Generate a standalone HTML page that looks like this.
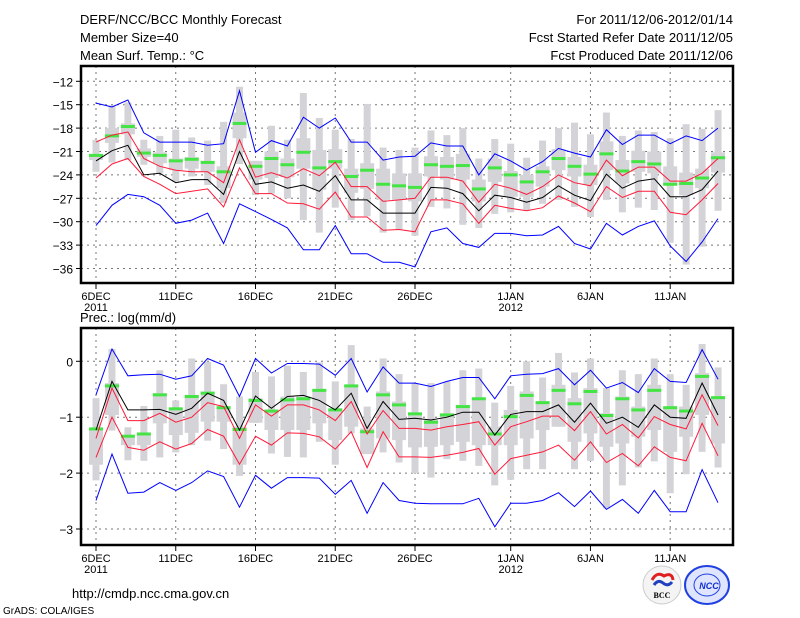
<!DOCTYPE html>
<html><head><meta charset="utf-8"><style>
body{margin:0;background:#fff;}
svg{display:block;font-family:"Liberation Sans",sans-serif;}
</style></head><body>
<svg id="chart" width="800" height="618" viewBox="0 0 800 618" xmlns="http://www.w3.org/2000/svg">
<rect width="800" height="618" fill="#fff"/>
<g font-size="13" fill="#000">
<text x="80" y="24">DERF/NCC/BCC Monthly Forecast</text>
<text x="80" y="42">Member Size=40</text>
<text x="80" y="60">Mean Surf. Temp.: °C</text>
<text x="733" y="24" text-anchor="end">For 2011/12/06-2012/01/14</text>
<text x="733" y="42" text-anchor="end">Fcst Started Refer Date 2011/12/05</text>
<text x="733" y="60" text-anchor="end">Fcst Produced Date 2011/12/06</text>
<text x="80" y="322">Prec.: log(mm/d)</text>
<text x="72" y="598">http://cmdp.ncc.cma.gov.cn</text>
<text x="3" y="614" font-size="10">GrADS: COLA/IGES</text>
</g>
<g id="top"></g>
<g id="bot"></g>
<g>
<circle cx="662" cy="585" r="19" fill="#f4f4f4" stroke="#ccc"/>
<path d="M652 580 q5 -9 12 -4 q8 -4 9 4" fill="none" stroke="#e02020" stroke-width="3"/>
<path d="M654 585 q4 -6 9 -2 q5 4 9 -1" fill="none" stroke="#2040c0" stroke-width="3"/>
<text x="662" y="598" font-size="8" text-anchor="middle" font-family="Liberation Serif,serif" font-weight="bold">BCC</text>
</g>
<g>
<ellipse cx="707" cy="585" rx="22" ry="19" fill="#dfe5ff" stroke="#2040e0" stroke-width="2"/>
<ellipse cx="707" cy="585" rx="13" ry="11" fill="none" stroke="#2040e0"/>
<text x="709" y="589" font-size="9" text-anchor="middle" fill="#1030d0" font-weight="bold" font-style="italic">NCC</text>
</g>
</svg>
<script>
const days = 40;
const xTickLabels = ["6DEC","11DEC","16DEC","21DEC","26DEC","1JAN","6JAN","11JAN"];
const xTickDays = [0,5,10,15,20,26,31,36];
const xYearLabels = ["2011","","","","","2012","",""];

const tTicks = [-12,-15,-18,-21,-24,-27,-30,-33,-36];
const tMax = [-14.8,-15.3,-14.4,-18.6,-19.8,-19.8,-19.8,-20.2,-20.0,-13.2,-21.1,-19.6,-20.3,-16.6,-18.0,-16.7,-19.8,-19.8,-22.1,-21.7,-21.6,-19.9,-20.3,-20.3,-24.0,-21.3,-22.2,-23.4,-22.3,-20.6,-21.2,-21.7,-18.2,-20.1,-18.9,-18.9,-20.0,-19.0,-19.6,-18.0];
const tUpper = [-19.8,-18.9,-18.5,-21.9,-22.9,-23.4,-23.6,-23.6,-25.0,-19.5,-24.3,-23.7,-24.4,-23.2,-24.1,-22.4,-25.5,-25.5,-27.4,-27.2,-27.0,-24.3,-24.3,-24.8,-27.5,-25.2,-25.7,-26.5,-25.5,-24.0,-25.0,-25.4,-22.1,-24.1,-23.0,-23.0,-24.8,-24.8,-23.8,-21.9];
const tMean = [-22.2,-20.9,-20.2,-24.0,-23.8,-25.0,-24.6,-24.6,-26.5,-21.0,-25.2,-24.9,-25.7,-25.3,-26.1,-24.1,-27.2,-27.2,-28.9,-28.9,-28.9,-25.6,-25.7,-26.4,-28.6,-26.6,-26.9,-27.5,-26.9,-25.4,-26.6,-27.3,-23.9,-25.7,-24.8,-24.5,-26.8,-26.8,-25.9,-23.5];
const tLower = [-24.4,-22.6,-21.9,-24.2,-25.2,-26.4,-26.1,-25.8,-28.1,-23.1,-26.4,-26.4,-27.6,-27.7,-28.4,-26.2,-29.4,-29.4,-31.1,-31.0,-31.3,-27.2,-27.2,-27.7,-30.2,-27.9,-28.3,-28.6,-28.2,-26.7,-27.6,-28.7,-25.5,-26.9,-26.1,-26.1,-28.8,-29.1,-27.2,-25.1];
const tMin = [-30.5,-27.9,-26.5,-26.8,-27.9,-30.2,-29.8,-28.9,-32.8,-27.7,-28.7,-29.7,-30.8,-33.6,-33.6,-30.5,-34.1,-34.1,-35.2,-35.2,-35.8,-31.3,-30.8,-32.8,-33.3,-31.5,-31.5,-31.8,-31.7,-30.6,-32.8,-33.5,-30.2,-31.7,-30.6,-29.9,-33.1,-35.1,-32.6,-29.6];
const tClim = [-21.5,-19.0,-17.8,-21.2,-21.5,-22.2,-22.0,-22.4,-23.6,-17.4,-22.9,-21.9,-22.7,-21.1,-23.1,-22.3,-24.2,-23.4,-25.2,-25.4,-25.6,-22.7,-22.9,-22.8,-25.8,-23.1,-24.0,-24.9,-23.6,-21.9,-22.9,-23.9,-21.3,-23.5,-22.3,-22.6,-25.2,-25.1,-24.4,-21.8];
const tWhiskTop = [-19.5,-15.1,-14.7,-19.5,-19.0,-18.2,-19.2,-19.6,-17.2,-12.7,-22.2,-17.7,-19.5,-13.5,-16.7,-18.2,-19.4,-14.9,-20.5,-20.8,-20.5,-18.3,-18.9,-18.0,-21.9,-19.4,-20.0,-21.8,-19.6,-18.0,-17.3,-18.8,-16.0,-19.0,-18.3,-18.5,-19.3,-17.5,-18.1,-15.7];
const tWhiskBot = [-23.6,-22.4,-22.1,-22.7,-23.8,-24.9,-24.2,-25.3,-27.6,-22.6,-26.6,-26.4,-27.0,-29.8,-31.4,-28.2,-29.8,-29.3,-31.4,-31.0,-31.8,-28.1,-28.3,-30.4,-30.8,-29.0,-28.8,-28.6,-27.7,-27.2,-28.1,-29.4,-27.2,-28.8,-28.2,-28.5,-32.7,-35.5,-33.2,-28.6];
const tBoxTop = [-21.4,-18.0,-17.4,-20.6,-21.1,-21.9,-21.7,-22.2,-22.9,-16.0,-22.2,-21.0,-21.9,-19.3,-20.8,-20.7,-23.2,-22.5,-23.2,-23.8,-23.8,-21.6,-21.7,-21.3,-24.6,-21.9,-23.5,-24.0,-22.9,-20.7,-21.7,-22.7,-19.7,-22.1,-20.9,-21.0,-22.9,-23.7,-23.2,-21.1];
const tBoxBot = [-22.1,-19.9,-18.8,-21.7,-22.5,-23.4,-23.2,-23.6,-25.7,-19.3,-24.6,-24.4,-24.3,-23.2,-25.9,-23.2,-26.3,-25.8,-27.2,-27.2,-27.4,-24.2,-24.6,-24.6,-27.4,-24.9,-26.8,-26.8,-25.5,-23.4,-24.2,-25.3,-23.4,-25.1,-23.6,-23.8,-25.3,-26.6,-25.7,-23.7];

const pTicks = [0,-1,-2,-3];
const pMax = [-0.60,0.22,-0.26,-0.24,-0.23,-0.32,-0.26,0.05,-0.07,-0.63,0.05,-0.21,-0.04,-0.04,-0.05,-0.25,0.05,-0.55,-0.10,-0.39,-0.39,-0.45,-0.36,-0.29,-0.29,-0.67,-0.26,-0.23,-0.22,-0.13,-0.42,-0.16,-0.48,-0.38,-0.56,-0.13,-0.36,-0.38,0.21,-0.32];
const pUpper = [-1.38,-0.48,-1.06,-1.06,-0.93,-1.09,-1.00,-0.74,-0.81,-1.38,-0.78,-0.98,-0.78,-0.78,-0.87,-1.06,-0.72,-1.30,-0.88,-1.20,-1.20,-1.23,-1.17,-1.13,-1.08,-1.50,-1.17,-1.08,-0.98,-0.98,-1.24,-0.90,-1.30,-1.13,-1.37,-0.99,-1.13,-1.21,-0.60,-1.15];
const pMean = [-1.23,-0.36,-0.87,-0.87,-0.86,-0.95,-0.84,-0.57,-0.70,-1.23,-0.62,-0.84,-0.63,-0.61,-0.70,-0.87,-0.57,-1.20,-0.72,-1.04,-1.02,-1.05,-1.00,-0.91,-0.91,-1.32,-0.95,-0.90,-0.90,-0.78,-1.09,-0.75,-1.11,-1.00,-1.18,-0.78,-1.00,-1.02,-0.39,-0.96];
const pLower = [-1.72,-1.00,-1.54,-1.59,-1.44,-1.57,-1.47,-1.22,-1.34,-1.84,-1.34,-1.50,-1.28,-1.29,-1.35,-1.57,-1.26,-1.90,-1.26,-1.71,-1.71,-1.72,-1.68,-1.63,-1.56,-2.02,-1.74,-1.68,-1.62,-1.50,-1.77,-1.44,-1.81,-1.65,-1.87,-1.53,-1.72,-1.78,-1.11,-1.69];
const pMin = [-2.49,-1.66,-2.36,-2.34,-2.17,-2.31,-2.17,-1.96,-2.06,-2.61,-2.04,-2.27,-2.08,-2.08,-2.09,-2.38,-2.13,-2.72,-2.17,-2.49,-2.54,-2.55,-2.55,-2.55,-2.45,-2.96,-2.54,-2.54,-2.49,-2.35,-2.60,-2.32,-2.65,-2.47,-2.72,-2.31,-2.69,-2.69,-1.94,-2.53];
const pClim = [-1.21,-0.44,-1.34,-1.30,-0.60,-0.85,-0.63,-0.57,-0.83,-1.22,-0.70,-0.89,-0.69,-0.67,-0.52,-0.87,-0.44,-1.26,-0.60,-0.78,-0.94,-1.09,-0.96,-0.81,-0.67,-1.30,-0.99,-0.61,-0.74,-0.52,-0.76,-0.54,-0.97,-0.67,-0.87,-0.52,-0.83,-0.89,-0.27,-0.65];
const pWhiskTop = [-0.66,0.22,-1.18,-0.80,-0.16,-0.70,0.05,-0.01,-0.41,-0.63,-0.19,-0.27,-0.08,-0.19,-0.02,-0.36,0.29,-0.81,0.05,-0.23,-0.39,-0.39,-0.36,-0.16,-0.13,-0.74,-0.44,0,-0.29,0.15,-0.20,0.05,-0.48,-0.16,-0.23,0.05,-0.23,-0.42,0.31,-0.11];
const pWhiskBot = [-2.13,-1.24,-1.77,-1.78,-1.72,-1.63,-1.50,-1.42,-1.57,-2.05,-1.10,-1.65,-1.71,-1.72,-1.44,-1.85,-1.29,-1.66,-1.63,-1.81,-2.00,-2.08,-1.75,-1.78,-1.87,-2.22,-2.12,-1.93,-1.93,-1.17,-1.93,-1.78,-2.63,-2.22,-1.90,-1.79,-2.36,-2.02,-1.62,-1.90];
const pBoxTop = [-1.23,-0.39,-1.34,-1.29,-0.57,-0.84,-0.60,-0.54,-0.81,-1.17,-0.66,-0.87,-0.63,-0.63,-0.51,-0.84,-0.42,-1.20,-0.54,-0.72,-0.93,-1.05,-0.93,-0.78,-0.66,-1.17,-0.87,-0.54,-0.72,-0.42,-0.66,-0.48,-0.93,-0.63,-0.81,-0.42,-0.84,-0.81,-0.21,-0.63];
const pBoxBot = [-1.85,-0.96,-1.50,-1.50,-1.11,-1.32,-1.28,-1.08,-1.08,-1.85,-1.10,-1.23,-1.23,-1.23,-1.11,-1.41,-1.17,-1.66,-1.38,-1.41,-1.54,-1.53,-1.50,-1.44,-1.50,-1.50,-1.50,-1.38,-1.23,-1.17,-1.44,-1.29,-1.53,-1.47,-1.35,-1.23,-1.62,-1.35,-0.96,-1.47];

const NS = "http://www.w3.org/2000/svg";
function mk(parent, tag, attrs) {
  const el = document.createElementNS(NS, tag);
  for (const k in attrs) el.setAttribute(k, attrs[k]);
  parent.appendChild(el);
  return el;
}
const X0 = 81, X1 = 733;
function xScale(i) { return 96 + 15.95 * i; }

function drawPanel(g, cfg) {
  const yS = cfg.yScale;
  // ticks & grid
  cfg.ticks.forEach(t => {
    const y = yS(t);
    const gl = mk(g, "line", {x1: X0, x2: X1, y1: y, y2: y, stroke: "#777", "stroke-dasharray": "2,4", "stroke-width": 1});
    
    
    mk(g, "line", {x1: X0 - 5, x2: X0, y1: y, y2: y, stroke: "#000"});
    const tx = mk(g, "text", {x: X0 - 8, y: y + 5, "text-anchor": "end", "font-size": 12});
    tx.textContent = t === 0 ? "0" : "\u2212" + Math.abs(t);
    
    
  });
  xTickDays.forEach((d, k) => {
    const x = xScale(d);
    const gl = mk(g, "line", {x1: x, x2: x, y1: cfg.top, y2: cfg.bot, stroke: "#777", "stroke-dasharray": "2,4"});
    
    
    mk(g, "line", {x1: x, x2: x, y1: cfg.bot, y2: cfg.bot + 6, stroke: "#000"});
    const tx = mk(g, "text", {x: x, y: cfg.bot + 17, "text-anchor": "middle", "font-size": 11});
    tx.textContent = xTickLabels[k];
    
    
    if (xYearLabels[k]) {
      const ty = mk(g, "text", {x: x, y: cfg.bot + 28, "text-anchor": "middle", "font-size": 11});
      ty.textContent = xYearLabels[k];
      
      
    }
  });
  // boxes
  for (let i = 0; i < days; i++) {
    const x = xScale(i);
    const w = mk(g, "rect", {x: x - 3.5, width: 7, y: yS(cfg.wt[i]), height: yS(cfg.wb[i]) - yS(cfg.wt[i]), fill: "#d4d4d8"});
    
    
    const b = mk(g, "rect", {x: x - 7, width: 14, y: yS(cfg.bt[i]), height: yS(cfg.bb[i]) - yS(cfg.bt[i]), fill: "#d4d4d8"});
    
    
  }
  for (let i = 0; i < days; i++) {
    const x = xScale(i);
    const c = mk(g, "rect", {x: x - 7, width: 14, y: yS(cfg.clim[i]) - 1.5, height: 3, fill: "#44e444"});
    
    
  }
  const series = [[cfg.max, "#0000ff", "max-line"], [cfg.up, "#ff1a3a", "upper-line"], [cfg.mean, "#000", "mean-line"], [cfg.low, "#ff1a3a", "lower-line"], [cfg.min, "#0000ff", "min-line"]];
  series.forEach(s => {
    const pts = s[0].map((v, i) => xScale(i).toFixed(1) + "," + yS(v).toFixed(1)).join(" ");
    const pl = mk(g, "polyline", {points: pts, fill: "none", stroke: s[1], "stroke-width": 1});
    
    
  });
  const fr = mk(g, "rect", {x: X0, y: cfg.top, width: X1 - X0, height: cfg.bot - cfg.top, fill: "none", stroke: "#000", "stroke-width": 2.5});
  
  
}

drawPanel(document.getElementById("top"), {
  top: 66, bot: 283, ticks: tTicks,
  yScale: v => 81.3 + (-12 - v) * 7.8,
  max: tMax, up: tUpper, mean: tMean, low: tLower, min: tMin, clim: tClim,
  wt: tWhiskTop, wb: tWhiskBot, bt: tBoxTop, bb: tBoxBot
});
drawPanel(document.getElementById("bot"), {
  top: 328, bot: 545, ticks: pTicks,
  yScale: v => 361.3 - v * 55.9,
  max: pMax, up: pUpper, mean: pMean, low: pLower, min: pMin, clim: pClim,
  wt: pWhiskTop, wb: pWhiskBot, bt: pBoxTop, bb: pBoxBot
});
</script>
</body></html>
